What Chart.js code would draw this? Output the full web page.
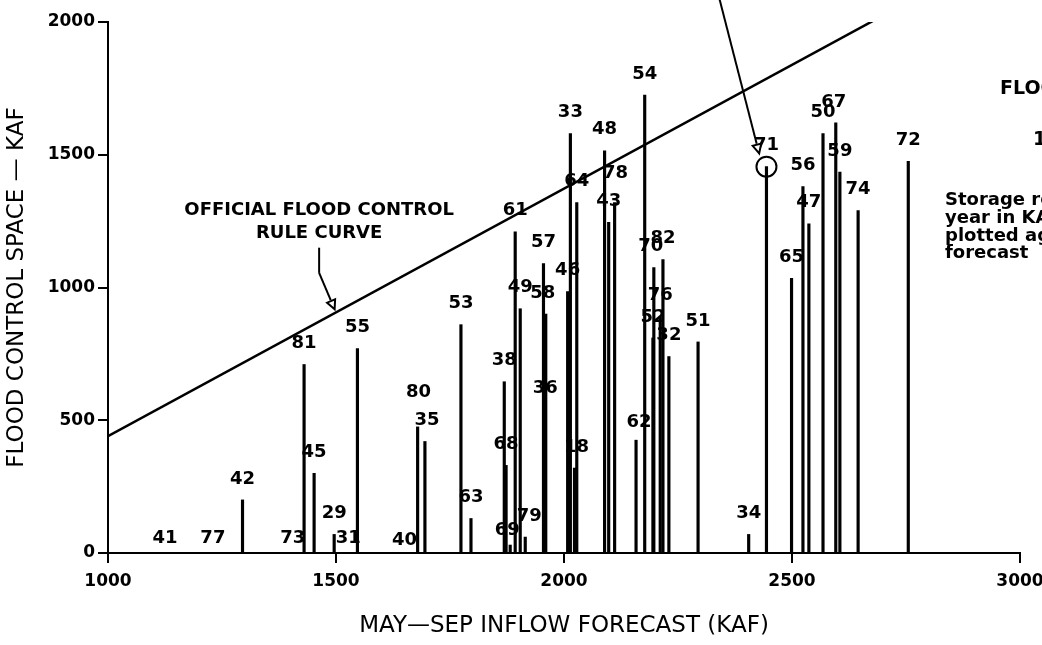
<!DOCTYPE html>
<html>
<head>
<meta charset="utf-8">
<script src="https://cdn.jsdelivr.net/npm/chart.js@4/dist/chart.umd.min.js"></script>
<style>
  html, body { margin: 0; padding: 0; background: #fff; }
  #wrap { position: relative; width: 1042px; height: 645px; }
</style>
</head>
<body>
<div id="wrap"><canvas id="floodChart" width="1042" height="645"></canvas></div>
<script>
// year of record, May-Sep inflow forecast (KAF), flood control space used (KAF)
const years    = ['41', '77', '42', '73', '81', '45', '29', '31', '55', '40',
                  '80', '35', '53', '63', '38', '68', '69', '61', '49', '79',
                  '57', '58', '36', '46', '33', '64', '18', '48', '43', '78',
                  '62', '54', '52', '70', '76', '82', '32', '51', '34', '71',
                  '65', '56', '47', '50', '67', '59', '74', '72'];
const forecast = [1125, 1230, 1295, 1405, 1430, 1452, 1496, 1527, 1547, 1650,
                  1679, 1695, 1774, 1796, 1869, 1873, 1882, 1893, 1904, 1915,
                  1955, 1960, 1959, 2008, 2014, 2028, 2023, 2089, 2098, 2111,
                  2158, 2177, 2195, 2197, 2211, 2217, 2230, 2294, 2405, 2444,
                  2499, 2524, 2537, 2568, 2596, 2605, 2645, 2755];
const space    = [0, 0, 200, 0, 710, 300, 70, 0, 770, 0,
                  475, 420, 860, 130, 645, 330, 30, 1210, 920, 60,
                  1090, 900, 540, 985, 1580, 1320, 320, 1515, 1245, 1320,
                  425, 1725, 810, 1075, 890, 1105, 740, 795, 70, 1455,
                  1035, 1380, 1240, 1580, 1620, 1435, 1290, 1475];

// official flood control rule curve
const ruleX = [1000, 2700];
const ruleY = [440, 2025];

const xTicks = [1000, 1500, 2000, 2500, 3000];
const yTicks = [0, 500, 1000, 1500, 2000];

// small label nudges (px) where the original moved a label off its stick
const labelNudge = {
  '41': [0, 6], '77': [0, 6], '73': [0, 6], '31': [0, 6], '40': [0, 8], '69': [-3, 6],
  '80': [1, -14], '35': [2, 0], '78': [1, -8], '58': [-3, 0], '62': [3, 3],
  '70': [-3, 0], '67': [-2, 0], '79': [4, 0], '18': [2, 0]
};

const FONT = '"DejaVu Sans", sans-serif';

const notes = {
  id: 'notes',
  afterDatasetsDraw(chart) {
    const ctx = chart.ctx;
    const xs = chart.scales.x, ys = chart.scales.y;
    const px = v => xs.getPixelForValue(v);
    const py = v => ys.getPixelForValue(v);
    ctx.save();
    ctx.fillStyle = '#000';
    ctx.strokeStyle = '#000';
    ctx.textAlign = 'center';
    ctx.textBaseline = 'middle';

    // year labels
    ctx.font = 'bold 18px ' + FONT;
    years.forEach((yr, i) => {
      const n = labelNudge[yr] || [0, 0];
      ctx.fillText(yr, px(forecast[i]) + n[0], py(space[i]) - 21 + n[1]);
    });

    // circle round 1971 and the pointer to it
    const i71 = years.indexOf('71');
    const cx = px(forecast[i71]), cy = py(space[i71]);
    ctx.lineWidth = 2;
    ctx.beginPath();
    ctx.arc(cx, cy, 10, 0, Math.PI * 2);
    ctx.stroke();
    arrow(ctx, px(2330), py(2160), px(2428), py(1505));

    // rule curve note
    ctx.font = 'bold 18px ' + FONT;
    ctx.fillText('OFFICIAL FLOOD CONTROL', px(1463), py(1290));
    ctx.fillText('RULE CURVE', px(1463), py(1203));
    ctx.lineWidth = 2;
    ctx.beginPath();
    ctx.moveTo(px(1463), py(1150));
    ctx.lineTo(px(1463), py(1055));
    ctx.stroke();
    arrow(ctx, px(1463), py(1055), px(1497), py(918));

    // side notes (cut by the page edge)
    ctx.textAlign = 'left';
    ctx.font = 'bold 19px ' + FONT;
    ctx.fillText('FLOOD CONTROL', 1000, 89);
    ctx.fillText('1929-1982', 1033, 140);
    ctx.font = 'bold 18px ' + FONT;
    ctx.fillText('Storage required each', 945, 200);
    ctx.fillText('year in KAF is', 945, 218);
    ctx.fillText('plotted against the', 945, 236);
    ctx.fillText('forecast', 945, 253);
    ctx.restore();
  }
};

function arrow(ctx, x0, y0, x1, y1) {
  const a = Math.atan2(y1 - y0, x1 - x0);
  const L = 10, w = 0.45;
  ctx.beginPath();
  ctx.moveTo(x0, y0);
  ctx.lineTo(x1 - L * Math.cos(a), y1 - L * Math.sin(a));
  ctx.stroke();
  ctx.beginPath();
  ctx.moveTo(x1, y1);
  ctx.lineTo(x1 - L * Math.cos(a - w), y1 - L * Math.sin(a - w));
  ctx.lineTo(x1 - L * Math.cos(a + w), y1 - L * Math.sin(a + w));
  ctx.closePath();
  ctx.fillStyle = '#fff';
  ctx.fill();
  ctx.stroke();
  ctx.fillStyle = '#000';
}

const ctx = document.getElementById('floodChart');
new Chart(ctx, {
  type: 'bar',
  data: {
    datasets: [{
      type: 'bar',
      data: years.map((yr, i) => ({ x: forecast[i], y: space[i] })),
      backgroundColor: '#000',
      borderWidth: 0,
      barThickness: 2.5
    }, {
      type: 'line',
      data: ruleX.map((x, i) => ({ x: x, y: ruleY[i] })),
      borderColor: '#000',
      borderWidth: 2.5,
      pointRadius: 0,
      tension: 0
    }]
  },
  options: {
    responsive: false,
    animation: false,
    devicePixelRatio: 1,
    layout: { padding: { top: 22, right: 22, left: 0, bottom: 0 } },
    plugins: { legend: { display: false }, tooltip: { enabled: false } },
    scales: {
      x: {
        type: 'linear', min: 1000, max: 3000, offset: false,
        afterFit: s => { s.height = 92; s.paddingRight = 0; },
        afterBuildTicks: s => { s.ticks = xTicks.map(v => ({ value: v })); },
        grid: { offset: false, drawOnChartArea: false, drawTicks: true, tickLength: 10, color: '#000', lineWidth: 2 },
        border: { display: true, color: '#000', width: 2 },
        ticks: { color: '#000', padding: 8, maxRotation: 0, autoSkip: false,
                 callback: v => String(v),
                 font: { family: FONT, size: 17, weight: 'bold' } },
        title: { display: true, text: 'MAY\u2014SEP INFLOW FORECAST (KAF)', color: '#000',
                 padding: { top: 0, bottom: 5 }, font: { family: FONT, size: 23 } }
      },
      y: {
        type: 'linear', min: 0, max: 2000,
        afterFit: s => { s.width = 108; },
        afterBuildTicks: s => { s.ticks = yTicks.map(v => ({ value: v })); },
        grid: { drawOnChartArea: false, drawTicks: true, tickLength: 10, color: '#000', lineWidth: 2 },
        border: { display: true, color: '#000', width: 2 },
        ticks: { color: '#000', padding: 3, autoSkip: false,
                 callback: v => String(v),
                 font: { family: FONT, size: 17, weight: 'bold' } },
        title: { display: true, text: 'FLOOD CONTROL SPACE \u2014 KAF', color: '#000',
                 padding: { top: 3, bottom: 0 }, font: { family: FONT, size: 23 } }
      }
    }
  },
  plugins: [notes]
});
</script>
</body>
</html>
